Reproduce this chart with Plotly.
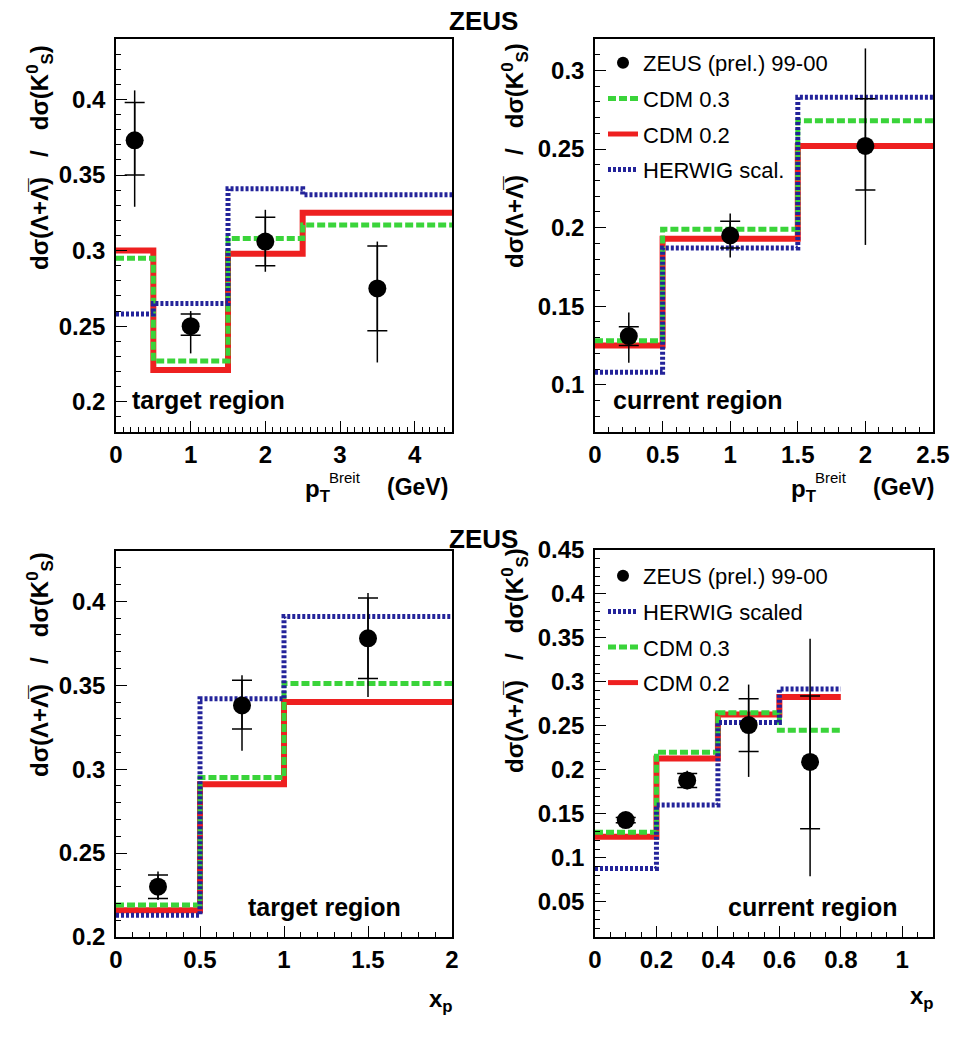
import plotly.graph_objects as go

# ---------------- data ----------------
# Panel 1: pT Breit, target region
p1_edges = [0, 0.5, 1.5, 2.5, 4.5]
p1_cdm02 = [0.300, 0.221, 0.298, 0.325]
p1_cdm03 = [0.295, 0.227, 0.308, 0.317]
p1_herwig = [0.258, 0.265, 0.341, 0.337]
p1_x = [0.25, 1.0, 2.0, 3.5]
p1_y = [0.373, 0.250, 0.306, 0.275]
p1_stat_up = [0.025, 0.008, 0.016, 0.028]
p1_stat_dn = [0.023, 0.006, 0.016, 0.028]
p1_tot_up = [0.033, 0.010, 0.021, 0.031]
p1_tot_dn = [0.044, 0.018, 0.020, 0.049]

# Panel 2: pT Breit, current region
p2_edges = [0, 0.5, 1.5, 2.5]
p2_cdm02 = [0.125, 0.193, 0.252]
p2_cdm03 = [0.128, 0.199, 0.268]
p2_herwig = [0.108, 0.187, 0.283]
p2_x = [0.25, 1.0, 2.0]
p2_y = [0.131, 0.195, 0.252]
p2_stat_up = [0.006, 0.009, 0.030]
p2_stat_dn = [0.006, 0.008, 0.028]
p2_tot_up = [0.015, 0.014, 0.062]
p2_tot_dn = [0.017, 0.014, 0.063]

# Panel 3: xp, target region
p3_edges = [0, 0.5, 1.0, 2.0]
p3_cdm02 = [0.216, 0.291, 0.340]
p3_cdm03 = [0.219, 0.295, 0.351]
p3_herwig = [0.213, 0.342, 0.391]
p3_x = [0.25, 0.75, 1.5]
p3_y = [0.230, 0.338, 0.378]
p3_stat_up = [0.007, 0.015, 0.024]
p3_stat_dn = [0.007, 0.014, 0.024]
p3_tot_up = [0.009, 0.018, 0.027]
p3_tot_dn = [0.008, 0.027, 0.035]

# Panel 4: xp, current region
p4_edges = [0, 0.2, 0.4, 0.6, 0.8]
p4_cdm02 = [0.124, 0.213, 0.263, 0.283]
p4_cdm03 = [0.129, 0.220, 0.265, 0.245]
p4_herwig = [0.088, 0.160, 0.254, 0.292]
p4_x = [0.1, 0.3, 0.5, 0.7]
p4_y = [0.143, 0.188, 0.251, 0.209]
p4_stat_up = [0.003, 0.008, 0.030, 0.075]
p4_stat_dn = [0.003, 0.008, 0.030, 0.076]
p4_tot_up = [0.007, 0.011, 0.046, 0.140]
p4_tot_dn = [0.007, 0.010, 0.059, 0.130]

# tick labels
p1_xticks = [0, 1, 2, 3, 4]
p1_xtext = ["0", "1", "2", "3", "4"]
p1_yticks = [0.2, 0.25, 0.3, 0.35, 0.4]
p1_ytext = ["0.2", "0.25", "0.3", "0.35", "0.4"]
p2_xticks = [0, 0.5, 1, 1.5, 2, 2.5]
p2_xtext = ["0", "0.5", "1", "1.5", "2", "2.5"]
p2_yticks = [0.1, 0.15, 0.2, 0.25, 0.3]
p2_ytext = ["0.1", "0.15", "0.2", "0.25", "0.3"]
p3_xticks = [0, 0.5, 1, 1.5, 2]
p3_xtext = ["0", "0.5", "1", "1.5", "2"]
p3_yticks = [0.2, 0.25, 0.3, 0.35, 0.4]
p3_ytext = ["0.2", "0.25", "0.3", "0.35", "0.4"]
p4_xticks = [0, 0.2, 0.4, 0.6, 0.8, 1.0]
p4_xtext = ["0", "0.2", "0.4", "0.6", "0.8", "1"]
p4_yticks = [0.05, 0.1, 0.15, 0.2, 0.25, 0.3, 0.35, 0.4, 0.45]
p4_ytext = ["0.05", "0.1", "0.15", "0.2", "0.25", "0.3", "0.35", "0.4", "0.45"]

# ---------------- style ----------------
W, H = 955, 1052
FONT = "Liberation Sans, Arial, Helvetica, DejaVu Sans, sans-serif"
RED = "#ee2020"
GREEN = "#3ad43a"
BLUE = "#23239a"

fig = go.Figure()

panels = [
    dict(ax="", edges=p1_edges, red=p1_cdm02, green=p1_cdm03, blue=p1_herwig,
         x=p1_x, y=p1_y, su=p1_stat_up, sd=p1_stat_dn, tu=p1_tot_up, td=p1_tot_dn,
         legend=None, herwig_name="HERWIG scal."),
    dict(ax="2", edges=p2_edges, red=p2_cdm02, green=p2_cdm03, blue=p2_herwig,
         x=p2_x, y=p2_y, su=p2_stat_up, sd=p2_stat_dn, tu=p2_tot_up, td=p2_tot_dn,
         legend="legend", herwig_name="HERWIG scal.",
         ranks=dict(data=1, green=2, red=3, blue=4)),
    dict(ax="3", edges=p3_edges, red=p3_cdm02, green=p3_cdm03, blue=p3_herwig,
         x=p3_x, y=p3_y, su=p3_stat_up, sd=p3_stat_dn, tu=p3_tot_up, td=p3_tot_dn,
         legend=None, herwig_name="HERWIG scaled"),
    dict(ax="4", edges=p4_edges, red=p4_cdm02, green=p4_cdm03, blue=p4_herwig,
         x=p4_x, y=p4_y, su=p4_stat_up, sd=p4_stat_dn, tu=p4_tot_up, td=p4_tot_dn,
         legend="legend2", herwig_name="HERWIG scaled",
         ranks=dict(data=1, blue=2, green=3, red=4)),
]

for p in panels:
    xa = "x" + p["ax"]
    ya = "y" + p["ax"]
    show = p["legend"] is not None
    lg = p["legend"] if show else "legend"
    ranks = p.get("ranks", dict(data=1, green=2, red=3, blue=4))
    pid = p["ax"] or "1"

    def step(vals):
        return vals + [vals[-1]]

    fig.add_trace(go.Scatter(
        x=p["edges"], y=step(p["red"]), mode="lines", line_shape="hv",
        line=dict(color=RED, width=6), name="CDM 0.2",
        xaxis=xa, yaxis=ya, showlegend=show, legend=lg,
        legendgroup="red" + pid, legendrank=ranks["red"]))
    fig.add_trace(go.Scatter(
        x=p["edges"], y=step(p["green"]), mode="lines", line_shape="hv",
        line=dict(color=GREEN, width=5, dash="8px,3px"), name="CDM 0.3",
        xaxis=xa, yaxis=ya, showlegend=show, legend=lg,
        legendgroup="green" + pid, legendrank=ranks["green"]))
    fig.add_trace(go.Scatter(
        x=p["edges"], y=step(p["blue"]), mode="lines", line_shape="hv",
        line=dict(color=BLUE, width=5, dash="3px,2px"), name=p["herwig_name"],
        xaxis=xa, yaxis=ya, showlegend=show, legend=lg,
        legendgroup="blue" + pid, legendrank=ranks["blue"]))
    # total errors (no caps)
    fig.add_trace(go.Scatter(
        x=p["x"], y=p["y"], mode="markers", marker=dict(size=1, color="black", opacity=0),
        error_y=dict(type="data", symmetric=False, array=p["tu"], arrayminus=p["td"],
                     color="black", thickness=1.5, width=0),
        xaxis=xa, yaxis=ya, showlegend=False, hoverinfo="skip"))
    # data points with statistical errors (capped)
    fig.add_trace(go.Scatter(
        x=p["x"], y=p["y"], mode="markers",
        marker=dict(size=18, color="black", symbol="circle"),
        error_y=dict(type="data", symmetric=False, array=p["su"], arrayminus=p["sd"],
                     color="black", thickness=1.5, width=10),
        name="ZEUS (prel.) 99-00",
        xaxis=xa, yaxis=ya, showlegend=show, legend=lg,
        legendgroup="data" + pid, legendrank=ranks["data"]))

# ---------------- axes ----------------
def px_x(a, b):
    return [a / W, b / W]

def px_y(top, bottom):
    return [1 - bottom / H, 1 - top / H]

def xaxis(domain, anchor, rng, vals, text, minor):
    return dict(domain=domain, anchor=anchor, range=rng, tickmode="array",
                tickvals=vals, ticktext=text, showline=True, linecolor="black",
                linewidth=1.5, mirror=True, ticks="inside", ticklen=11, tickwidth=1,
                tickcolor="black", showgrid=False, zeroline=False, automargin=False,
                tickfont=dict(family=FONT, size=24, color="black", weight="bold"),
                ticklabelstandoff=0,
                minor=dict(ticks="inside", ticklen=5, tick0=0, dtick=minor,
                           tickcolor="black", tickwidth=1, showgrid=False))

def yaxis(domain, anchor, rng, vals, text, minor):
    d = xaxis(domain, anchor, rng, vals, text, minor)
    d["ticklabelstandoff"] = 4
    return d

XL, XR = 116, 452
XL2, XR2 = 595, 933
fig.update_layout(
    xaxis=xaxis(px_x(XL, XR), "y", [0, 4.5], p1_xticks, p1_xtext, 0.1),
    yaxis=yaxis(px_y(39, 432), "x", [0.18, 0.44], p1_yticks, p1_ytext, 0.01),
    xaxis2=xaxis(px_x(XL2, XR2), "y2", [0, 2.5], p2_xticks, p2_xtext, 0.1),
    yaxis2=yaxis(px_y(39, 432), "x2", [0.07, 0.32], p2_yticks, p2_ytext, 0.01),
    xaxis3=xaxis(px_x(XL, XR), "y3", [0, 2.0], p3_xticks, p3_xtext, 0.1),
    yaxis3=yaxis(px_y(551, 937), "x3", [0.2, 0.43], p3_yticks, p3_ytext, 0.01),
    xaxis4=xaxis(px_x(XL2, XR2), "y4", [0, 1.1], p4_xticks, p4_xtext, 0.05),
    yaxis4=yaxis(px_y(550, 937), "x4", [0.01, 0.45], p4_yticks, p4_ytext, 0.01),
)

leg_common = dict(xanchor="left", yanchor="top", bgcolor="rgba(0,0,0,0)",
                  font=dict(family=FONT, size=22, color="black"),
                  tracegroupgap=4, itemsizing="constant", itemwidth=30,
                  traceorder="grouped")
fig.update_layout(
    legend=dict(x=603 / W, y=1 - 42 / H, **leg_common),
    legend2=dict(x=603 / W, y=1 - 555 / H, **leg_common),
)

# ---------------- text ----------------
ann = []

def text(x, y, s, size=24, bold=True, xanchor="center", angle=0):
    ann.append(dict(x=x / W, y=1 - y / H, xref="paper", yref="paper", text=s,
                    showarrow=False, xanchor=xanchor, yanchor="middle", textangle=angle,
                    font=dict(family=FONT, size=size, color="black",
                              weight="bold" if bold else "normal")))

# ZEUS titles
text(484, 21, "ZEUS", size=26)
text(484, 539, "ZEUS", size=26)

# region labels
text(130, 400, "target region", size=25, xanchor="left")
text(611, 400, "current region", size=25, xanchor="left")
text(246, 907, "target region", size=25, xanchor="left")
text(726, 907, "current region", size=25, xanchor="left")

# y titles
NB = "\u00a0"
ytitle = "dσ(Λ+Λ\u0305)" + NB * 3 + "/" + NB * 3 + "dσ(K<sup>0</sup><sub>S</sub>)"
text(40, 158, ytitle, size=24, angle=-90)
text(515, 156, ytitle, size=24, angle=-90)
text(40, 665, ytitle, size=24, angle=-90)
text(515, 661, ytitle, size=24, angle=-90)

# x titles
for off in (0, 486):
    text(303 + off, 490, "p<sub>T</sub>", size=24, xanchor="left")
    text(327 + off, 477, "Breit", size=15, bold=False, xanchor="left")
    text(450 + off, 487, "(GeV)", size=23, xanchor="right")
text(427, 1000, "x<sub>p</sub>", size=24, xanchor="left")
text(908, 997, "x<sub>p</sub>", size=24, xanchor="left")

fig.update_layout(annotations=ann, width=W, height=H,
                  margin=dict(l=0, r=0, t=0, b=0, autoexpand=False),
                  paper_bgcolor="white", plot_bgcolor="white")

fig.write_html("out.html", config={"displayModeBar": False},
               post_script="document.body.style.margin='0';document.body.style.padding='0';")
